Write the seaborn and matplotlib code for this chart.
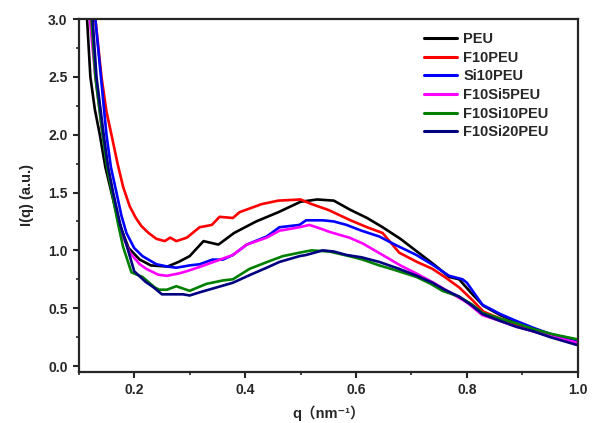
import matplotlib

matplotlib.use("Agg")
import matplotlib.pyplot as plt
import pandas as pd
import seaborn as sns
from matplotlib.ticker import MultipleLocator

# SAXS curves, q in nm^-1, I(q) in a.u.
SAMPLES = ["PEU", "F10PEU", "Si10PEU", "F10Si5PEU", "F10Si10PEU", "F10Si20PEU"]
COLORS = ["#000000", "#ff0000", "#0000ff", "#ff00ff", "#008000", "#000080"]

q_peu = [0.105, 0.115, 0.121, 0.129, 0.138, 0.148, 0.159, 0.168, 0.177, 0.19,
         0.21, 0.23, 0.26, 0.28, 0.30, 0.325, 0.352, 0.38, 0.42, 0.46, 0.50,
         0.53, 0.56, 0.59, 0.62, 0.648, 0.68, 0.71, 0.74, 0.768, 0.786, 0.81,
         0.83, 0.86, 0.89, 0.92, 0.95, 1.0]
i_peu = [3.8, 3.0, 2.5, 2.22, 2.0, 1.72, 1.5, 1.32, 1.18, 1.02,
         0.92, 0.87, 0.86, 0.9, 0.95, 1.08, 1.05, 1.15, 1.25, 1.33, 1.42,
         1.44, 1.43, 1.35, 1.28, 1.2, 1.1, 0.99, 0.88, 0.77, 0.75, 0.62,
         0.52, 0.44, 0.38, 0.32, 0.26, 0.22]

q_f10 = [0.105, 0.13, 0.141, 0.15, 0.159, 0.17, 0.18, 0.192, 0.203, 0.213, 0.226,
         0.24, 0.255, 0.265, 0.276, 0.295, 0.318, 0.34, 0.354, 0.378, 0.39, 0.43,
         0.46, 0.50, 0.52, 0.55, 0.59, 0.62, 0.648, 0.678, 0.71, 0.738, 0.76,
         0.786, 0.81, 0.83, 0.86, 0.89, 0.92, 0.95, 1.0]
i_f10 = [3.9, 3.0, 2.5, 2.2, 2.0, 1.75, 1.55, 1.38, 1.28, 1.21, 1.15,
         1.1, 1.08, 1.11, 1.08, 1.11, 1.2, 1.22, 1.29, 1.28, 1.33, 1.4,
         1.43, 1.44, 1.4, 1.35, 1.26, 1.2, 1.15, 0.98, 0.9, 0.84, 0.77,
         0.68, 0.57, 0.47, 0.41, 0.35, 0.3, 0.26, 0.21]

q_si10 = [0.105, 0.13, 0.14, 0.15, 0.158, 0.168, 0.177, 0.186, 0.2, 0.215, 0.24,
          0.26, 0.276, 0.30, 0.318, 0.341, 0.36, 0.378, 0.403, 0.439, 0.462, 0.498,
          0.51, 0.54, 0.56, 0.583, 0.61, 0.642, 0.67, 0.709, 0.74, 0.768, 0.792,
          0.80, 0.828, 0.86, 0.889, 0.92, 0.949, 0.98, 1.0]
i_si10 = [4.0, 3.0, 2.5, 2.0, 1.72, 1.5, 1.3, 1.15, 1.02, 0.95, 0.88,
          0.86, 0.85, 0.87, 0.88, 0.92, 0.92, 0.96, 1.05, 1.12, 1.2, 1.22,
          1.26, 1.26, 1.25, 1.22, 1.17, 1.12, 1.05, 0.96, 0.87, 0.78, 0.75,
          0.72, 0.53, 0.45, 0.39, 0.33, 0.28, 0.24, 0.22]

q_f10si5 = [0.105, 0.12, 0.13, 0.143, 0.152, 0.161, 0.17, 0.18, 0.192, 0.21, 0.222,
            0.243, 0.259, 0.28, 0.295, 0.32, 0.349, 0.378, 0.403, 0.439, 0.462, 0.498,
            0.516, 0.535, 0.552, 0.588, 0.612, 0.648, 0.68, 0.709, 0.74, 0.768, 0.80,
            0.828, 0.86, 0.889, 0.92, 0.95, 1.0]
i_f10si5 = [3.8, 3.0, 2.5, 2.0, 1.72, 1.5, 1.3, 1.12, 0.98, 0.88, 0.84,
            0.79, 0.78, 0.8, 0.82, 0.86, 0.91, 0.96, 1.05, 1.11, 1.17, 1.2,
            1.22, 1.19, 1.16, 1.11, 1.06, 0.96, 0.87, 0.8, 0.72, 0.64, 0.55,
            0.44, 0.39, 0.34, 0.3, 0.26, 0.2]

q_f10si10 = [0.105, 0.123, 0.13, 0.143, 0.151, 0.16, 0.17, 0.18, 0.195, 0.215, 0.237,
             0.245, 0.259, 0.276, 0.30, 0.33, 0.36, 0.378, 0.408, 0.44, 0.468, 0.498,
             0.52, 0.552, 0.588, 0.612, 0.642, 0.67, 0.709, 0.735, 0.756, 0.786, 0.81,
             0.828, 0.86, 0.889, 0.92, 0.95, 1.0]
i_f10si10 = [3.7, 3.0, 2.5, 2.0, 1.72, 1.5, 1.25, 1.03, 0.81, 0.77, 0.68,
             0.66, 0.66, 0.69, 0.65, 0.71, 0.74, 0.75, 0.84, 0.9, 0.95, 0.98,
             1.0, 0.99, 0.95, 0.92, 0.87, 0.83, 0.77, 0.71, 0.65, 0.6, 0.53,
             0.46, 0.41, 0.37, 0.32, 0.28, 0.23]

q_f10si20 = [0.105, 0.125, 0.132, 0.145, 0.153, 0.162, 0.175, 0.186, 0.2, 0.22, 0.235,
             0.25, 0.27, 0.288, 0.30, 0.32, 0.349, 0.378, 0.41, 0.439, 0.462, 0.498,
             0.51, 0.54, 0.56, 0.583, 0.61, 0.642, 0.678, 0.71, 0.738, 0.76, 0.786,
             0.81, 0.828, 0.86, 0.889, 0.92, 0.95, 1.0]
i_f10si20 = [3.7, 3.0, 2.5, 2.0, 1.72, 1.5, 1.22, 1.05, 0.82, 0.73, 0.68,
             0.62, 0.62, 0.62, 0.61, 0.64, 0.68, 0.72, 0.79, 0.85, 0.9, 0.95,
             0.96, 1.0, 0.99, 0.96, 0.94, 0.9, 0.84, 0.78, 0.72, 0.66, 0.6,
             0.52, 0.45, 0.39, 0.34, 0.3, 0.25, 0.18]

Q_VALUES = [q_peu, q_f10, q_si10, q_f10si5, q_f10si10, q_f10si20]
I_VALUES = [i_peu, i_f10, i_si10, i_f10si5, i_f10si10, i_f10si20]

sns.set_style("ticks")
plt.rcParams["font.family"] = ["Liberation Sans", "Noto Sans CJK SC", "DejaVu Sans"]
plt.rcParams["font.weight"] = "bold"

frames = []
for name, qs, vals in zip(SAMPLES, Q_VALUES, I_VALUES):
    frames.append(pd.DataFrame({"q": qs, "I": vals, "sample": name}))
df = pd.concat(frames, ignore_index=True)

fig = plt.figure(figsize=(5.92, 4.23), dpi=100)
ax = fig.add_axes([0.133, 0.121, 0.843, 0.834])

sns.lineplot(
    data=df, x="q", y="I", hue="sample", hue_order=SAMPLES,
    palette=COLORS, sort=False, estimator=None, linewidth=1.9, ax=ax,
)

ax.set_xlim(0.1, 1.0)
ax.set_ylim(-0.05, 3.0)
ax.xaxis.set_minor_locator(MultipleLocator(0.1))
ax.yaxis.set_major_locator(MultipleLocator(0.5))
ax.yaxis.set_minor_locator(MultipleLocator(0.25))
ax.set_xticks([0.2, 0.4, 0.6, 0.8, 1.0])
ax.set_xticklabels(["0.2", "0.4", "0.6", "0.8", "1.0"])

for side in ["top", "right", "bottom", "left"]:
    ax.spines[side].set_linewidth(1.6)
ax.tick_params(which="major", direction="out", length=4.5, width=1.5,
               labelsize=10, top=False, right=False)
ax.tick_params(which="minor", direction="out", length=2.5, width=1.2,
               top=False, right=False)
for lbl in ax.get_xticklabels() + ax.get_yticklabels():
    lbl.set_fontweight("bold")

ax.set_xlabel("q（nm⁻¹）", fontsize=10.5, fontweight="bold", labelpad=6)
ax.set_ylabel("I(q) (a.u.)", fontsize=10.5, fontweight="bold", labelpad=10)

leg = ax.legend(
    loc="upper left", bbox_to_anchor=(0.665, 1.0), frameon=False,
    handlelength=2.3, handletextpad=0.4, labelspacing=0.32,
    prop={"size": 10.5, "weight": "bold"},
)
for line in leg.get_lines():
    line.set_linewidth(2.2)

fig.savefig("out.png", dpi=100)
plt.close(fig)
